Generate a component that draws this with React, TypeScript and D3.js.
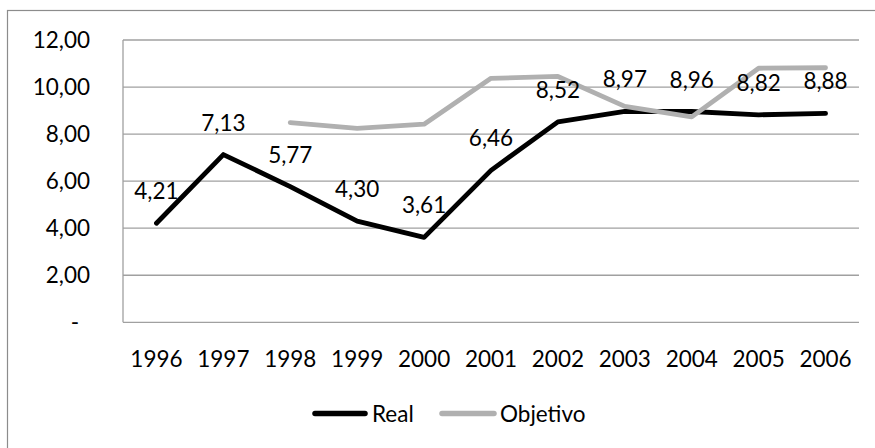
import React from "react";
import * as d3 from "d3";

const years = ["1996", "1997", "1998", "1999", "2000", "2001", "2002", "2003", "2004", "2005", "2006"];
const realValues: number[] = [4.21, 7.13, 5.77, 4.3, 3.61, 6.46, 8.52, 8.97, 8.96, 8.82, 8.88];
const objetivoValues: (number | null)[] = [null, null, 8.49, 8.24, 8.42, 10.37, 10.45, 9.18, 8.73, 10.8, 10.82];
const yTicks = [0, 2, 4, 6, 8, 10, 12];
const seriesNames = ["Real", "Objetivo"];

const W = 875;
const H = 448;
const FONT = "Lato, 'Open Sans', sans-serif";
const FS = 22.5;

const fmt = (v: number) => (v === 0 ? "-" : v.toFixed(2).replace(".", ","));

export default function App() {
  const x = d3.scaleBand<string>().domain(years).range([123, 859]);
  const y = d3.scaleLinear().domain([0, 12]).range([322.3, 40]);
  const cx = (yr: string) => (x(yr) as number) + x.bandwidth() / 2;

  const realLine = d3
    .line<number>()
    .x((_, i) => cx(years[i]))
    .y((d) => y(d));
  const objLine = d3
    .line<number | null>()
    .defined((d) => d !== null)
    .x((_, i) => cx(years[i]))
    .y((d) => y(d as number));

  return (
    <svg
      width={W}
      height={H}
      style={{ position: "absolute", left: 0, top: 0, background: "#fff" }}
      fontFamily={FONT}
    >
      {/* chart frame */}
      <rect x={7.5} y={10.5} width={W + 10} height={H + 10} fill="#fff" stroke="#8c8c8c" strokeWidth={1.2} />

      {/* gridlines */}
      {yTicks.map((t) => (
        <line key={t} x1={123} x2={859} y1={y(t)} y2={y(t)} stroke="#a0a0a0" strokeWidth={1.3} />
      ))}
      <line x1={123} x2={123} y1={y(12)} y2={y(0)} stroke="#a0a0a0" strokeWidth={1.3} />

      {/* y tick labels */}
      {yTicks.map((t) =>
        t === 0 ? (
          <text key={t} x={75} y={y(t) + 8} fontSize={FS} textAnchor="middle" fill="#000">
            -
          </text>
        ) : (
          <text key={t} x={90} y={y(t) + 8} fontSize={FS} textAnchor="end" fill="#000">
            {fmt(t)}
          </text>
        )
      )}

      {/* x tick labels */}
      {years.map((yr) => (
        <text key={yr} x={cx(yr)} y={366.5} fontSize={FS} textAnchor="middle" fill="#000">
          {yr}
        </text>
      ))}

      {/* series */}
      <path d={realLine(realValues) || ""} fill="none" stroke="#000" strokeWidth={4.8} strokeLinejoin="round" strokeLinecap="round" />
      <path d={objLine(objetivoValues) || ""} fill="none" stroke="#b0b0b0" strokeWidth={4.8} strokeLinejoin="round" strokeLinecap="round" />

      {/* data labels for Real */}
      {realValues.map((v, i) => (
        <text key={i} x={cx(years[i])} y={y(v) - 24} fontSize={FS} textAnchor="middle" fill="#000">
          {fmt(v)}
        </text>
      ))}

      {/* legend */}
      <line x1={315} x2={365} y1={413.5} y2={413.5} stroke="#000" strokeWidth={5.5} strokeLinecap="round" />
      <text x={372} y={421.5} fontSize={FS} fill="#000">
        {seriesNames[0]}
      </text>
      <line x1={442} x2={494} y1={413.5} y2={413.5} stroke="#b0b0b0" strokeWidth={5.5} strokeLinecap="round" />
      <text x={500} y={421.5} fontSize={FS} fill="#000">
        {seriesNames[1]}
      </text>
    </svg>
  );
}
